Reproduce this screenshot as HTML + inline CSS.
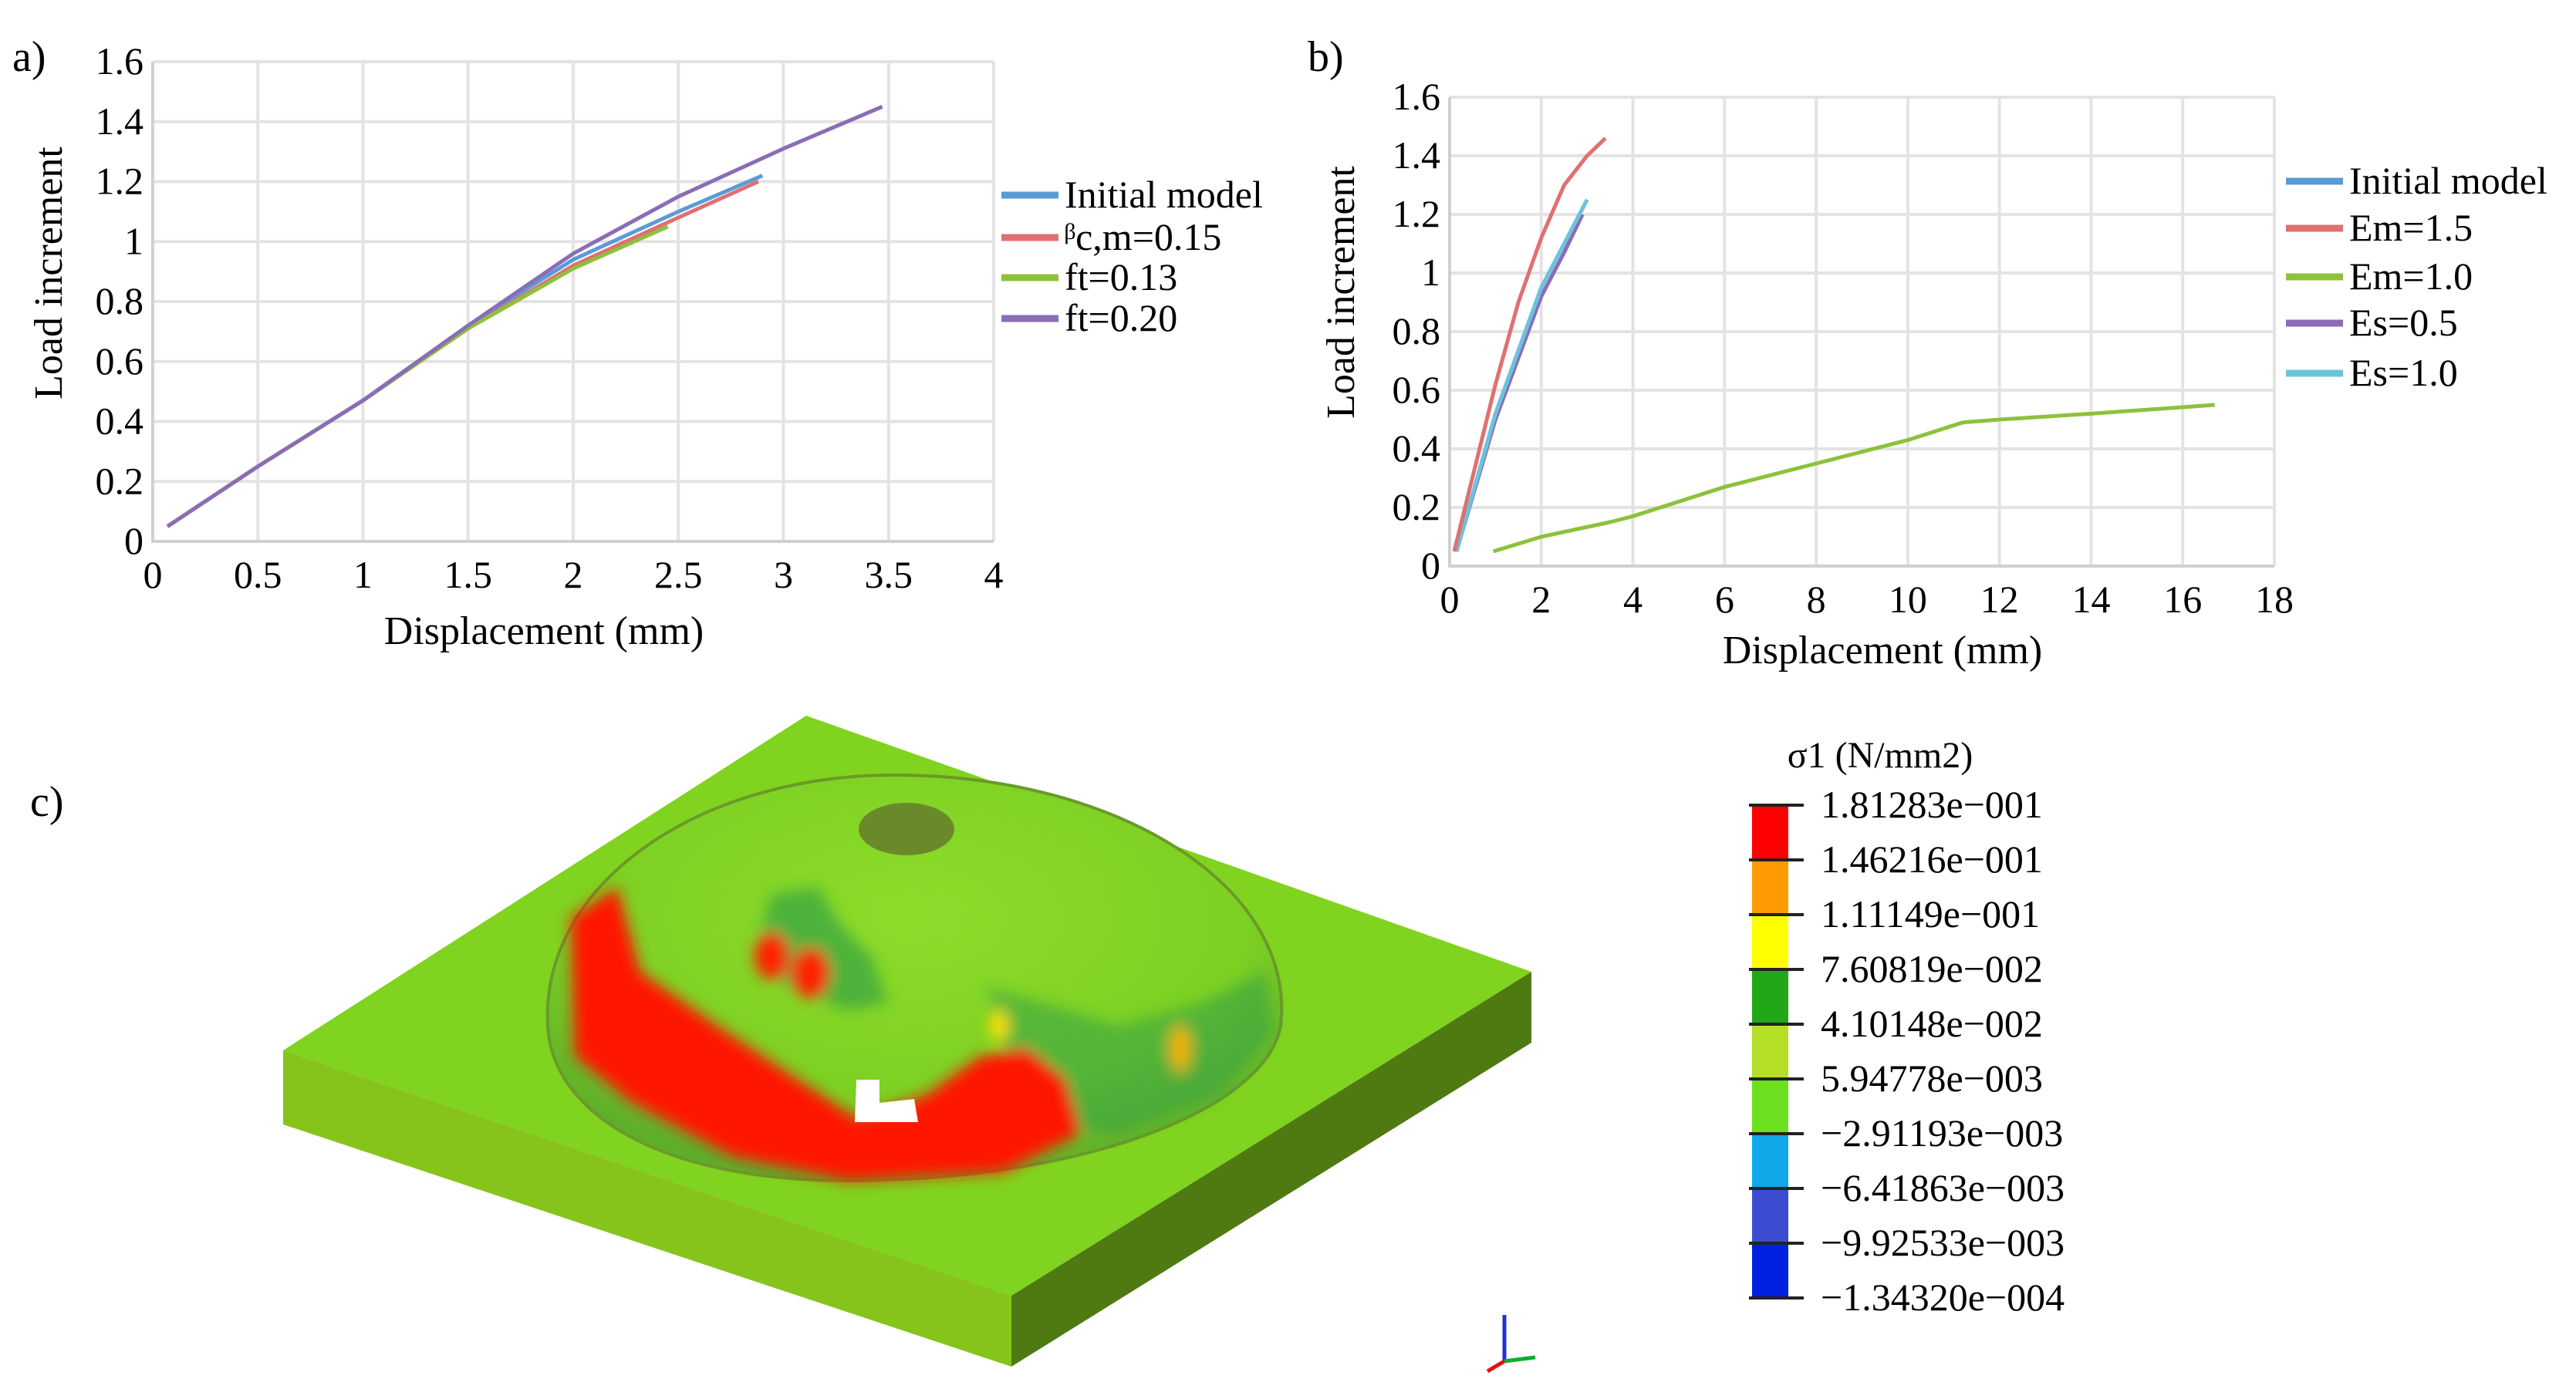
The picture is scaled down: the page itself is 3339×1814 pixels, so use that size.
<!DOCTYPE html>
<html><head><meta charset="utf-8">
<style>
html,body{margin:0;padding:0;background:#fff;}
svg, svg text{font-family:"Liberation Serif","DejaVu Serif",serif;}
</style></head>
<body>
<svg id="fig" width="3339" height="1809" viewBox="0 0 3339 1809" xmlns="http://www.w3.org/2000/svg" font-family="Liberation Serif, serif">
<defs>
<radialGradient id="domeG" cx="0.5" cy="0.35" r="0.65">
<stop offset="0" stop-color="#8edc2a"/><stop offset="0.7" stop-color="#7cd022"/><stop offset="1" stop-color="#5fae2a"/>
</radialGradient>
<filter id="blur" x="-20%" y="-20%" width="140%" height="140%"><feGaussianBlur stdDeviation="9"/></filter>
</defs>
<g id="chartA"></g>
<g id="chartB"></g>
<text x="16" y="92" font-size="56" font-family="Liberation Serif, serif">a)</text>
<text x="1695" y="92" font-size="56" font-family="Liberation Serif, serif">b)</text>
<text x="39" y="1058" font-size="56" font-family="Liberation Serif, serif">c)</text>

<g>
<polygon points="367,1362 1311,1680 1311,1772 367,1458" fill="#86c41c"/>
<polygon points="1311,1680 1985,1260 1985,1352 1311,1772" fill="#4f7a12"/>
<polygon points="1045,928 1985,1260 1311,1680 367,1362" fill="#80d31e"/>
<path d="M710,1330 C700,1150 900,1005 1160,1005 C1450,1005 1680,1150 1660,1330 C1640,1440 1400,1531 1100,1531 C850,1531 715,1440 710,1330 Z" fill="url(#domeG)" stroke="#6a9a2a" stroke-width="4"/>
<g filter="url(#blur)">
<path d="M1000,1160 L1060,1150 L1090,1200 L1130,1240 L1150,1300 L1100,1310 L1020,1280 L980,1230 Z" fill="#2a9a4a" opacity="0.6"/>
<path d="M1280,1280 L1350,1300 L1450,1330 L1560,1300 L1640,1260 L1650,1340 L1580,1420 L1450,1470 L1330,1460 Z" fill="#2a9a4a" opacity="0.5"/>
<path d="M740,1190 L800,1150 L830,1260 L930,1330 L1050,1410 L1110,1450 L1200,1420 L1270,1370 L1330,1360 L1380,1400 L1400,1470 L1300,1520 L1100,1531 L950,1500 L820,1430 L745,1370 Z" fill="#ff1200"/>
<ellipse cx="1000" cy="1240" rx="22" ry="30" fill="#ff2000"/>
<ellipse cx="1050" cy="1262" rx="24" ry="32" fill="#ff2000"/>
<ellipse cx="1295" cy="1330" rx="12" ry="20" fill="#ffdd00"/>
<ellipse cx="1530" cy="1360" rx="14" ry="30" fill="#f0b000"/>
</g>
<path d="M1110,1400 L1140,1400 L1140,1430 L1185,1425 L1190,1455 L1108,1455 Z" fill="#fff"/>
<ellipse cx="1175" cy="1075" rx="62" ry="34" fill="#6a8a2a"/>
</g>

<g>
<line x1="1950" y1="1765" x2="1950" y2="1705" stroke="#2233cc" stroke-width="5"/>
<line x1="1950" y1="1765" x2="1928" y2="1778" stroke="#dd1111" stroke-width="5"/>
<line x1="1950" y1="1765" x2="1990" y2="1760" stroke="#11aa33" stroke-width="5"/>
</g>

<g id="colorbar"></g>
<text x="2437" y="995" font-size="48" font-family="Liberation Serif, serif" text-anchor="middle">σ1 (N/mm2)</text>
</svg>
<script>
const NS="http://www.w3.org/2000/svg";
function mk(parent,tag,attrs,txt){const e=document.createElementNS(NS,tag);for(const k in attrs)e.setAttribute(k,attrs[k]);if(txt!==undefined){e.textContent=txt;e.setAttribute("font-family","Liberation Serif, serif");}parent.appendChild(e);return e;}

// ---- Chart A data ----
const aXTicks=[0,0.5,1,1.5,2,2.5,3,3.5,4];
const aYTicks=[0,0.2,0.4,0.6,0.8,1,1.2,1.4,1.6];
const aNames=["Initial model","ᵝc,m=0.15","ft=0.13","ft=0.20"];
const aColors=["#5b9bd5","#e07070","#8dc13c","#8a6db5"];
const aInitX=[0.07,0.5,1,1.5,2,2.5,2.9];
const aInitY=[0.05,0.25,0.47,0.72,0.94,1.10,1.22];
const aBetaX=[0.07,0.5,1,1.5,2,2.5,2.88];
const aBetaY=[0.05,0.25,0.47,0.71,0.92,1.08,1.20];
const aFt13X=[0.07,0.5,1,1.5,2,2.45];
const aFt13Y=[0.05,0.25,0.47,0.71,0.91,1.05];
const aFt20X=[0.07,0.5,1,1.5,2,2.5,3,3.47];
const aFt20Y=[0.05,0.25,0.47,0.72,0.96,1.15,1.31,1.45];

// ---- Chart B data ----
const bXTicks=[0,2,4,6,8,10,12,14,16,18];
const bYTicks=[0,0.2,0.4,0.6,0.8,1,1.2,1.4,1.6];
const bNames=["Initial model","Em=1.5","Em=1.0","Es=0.5","Es=1.0"];
const bColors=["#5b9bd5","#e07070","#8dc13c","#8a6db5","#6cc3dc"];
const bInitX=[0.15,1,2,2.5,3];
const bInitY=[0.05,0.52,0.95,1.10,1.25];
const bEm15X=[0.1,1,1.5,2,2.5,3,3.4];
const bEm15Y=[0.05,0.62,0.9,1.12,1.3,1.4,1.46];
const bEm10X=[0.95,2,3.5,4,6,8,10,11.2,12,14,16.7];
const bEm10Y=[0.05,0.1,0.15,0.17,0.27,0.35,0.43,0.49,0.5,0.52,0.55];
const bEs05X=[0.15,1,2,2.5,2.9];
const bEs05Y=[0.05,0.5,0.92,1.07,1.2];
const bEs10X=[0.15,1,2,2.5,3];
const bEs10Y=[0.05,0.52,0.95,1.10,1.25];

// ---- Colorbar data ----
const cbLabels=["1.81283e−001","1.46216e−001","1.11149e−001","7.60819e−002","4.10148e−002","5.94778e−003","−2.91193e−003","−6.41863e−003","−9.92533e−003","−1.34320e−004"];
const cbColors=["#ff0000","#ff9a00","#ffff00","#20a818","#b4e02a","#6ce01e","#10a8e8","#3c4cd0","#0020e0"];

function chart(g,o){
  const sx=v=>o.L+(v-o.x0)/(o.x1-o.x0)*(o.R-o.L);
  const sy=v=>o.B-(v-o.y0)/(o.y1-o.y0)*(o.B-o.T);
  o.xt.forEach(t=>{
    const l=mk(g,"line",{x1:sx(t),x2:sx(t),y1:o.T,y2:o.B,stroke:"#e3e3e3","stroke-width":4});
    
    
    const tx=mk(g,"text",{x:sx(t),y:o.B+60,"font-size":50,"text-anchor":"middle"},String(t));
    
    
  });
  o.yt.forEach(t=>{
    const l=mk(g,"line",{x1:o.L,x2:o.R,y1:sy(t),y2:sy(t),stroke:"#e3e3e3","stroke-width":4});
    
    
    const tx=mk(g,"text",{x:o.L-12,y:sy(t)+16,"font-size":50,"text-anchor":"end"},String(t));
    
    
  });
  const ax=mk(g,"path",{d:`M${o.L},${o.T} L${o.L},${o.B} L${o.R},${o.B}`,stroke:"#d0d0d0","stroke-width":4,fill:"none"});
  
  
  o.series.forEach((s,i)=>{
    const d=s.x.map((x,j)=>(j?"L":"M")+sx(x)+","+sy(s.y[j])).join(" ");
    const p=mk(g,"path",{d:d,stroke:s.c,"stroke-width":5,fill:"none","stroke-linejoin":"round"});
    
    
  });
  o.names.forEach((n,i)=>{
    const y=o.legY[i];
    const l=mk(g,"line",{x1:o.legX,x2:o.legX+74,y1:y,y2:y,stroke:o.colors[i],"stroke-width":9});
    
    
    const t=mk(g,"text",{x:o.legX+82,y:y+16,"font-size":50},n);
    
    
  });
  const xt=mk(g,"text",{x:o.xtX,y:o.xtY,"font-size":52,"text-anchor":"middle"},"Displacement (mm)");
  
  
  const yt=mk(g,"text",{x:0,y:0,"font-size":52,"text-anchor":"middle",transform:`translate(${o.ytX},${o.ytY}) rotate(-90)`},"Load increment");
  
  
}

chart(document.getElementById("chartA"),{L:198,R:1288,T:80,B:702,x0:0,x1:4,y0:0,y1:1.6,xt:aXTicks,yt:aYTicks,
  names:aNames,colors:aColors,legX:1298,legY:[253,308,360,413],xtX:705,xtY:835,ytX:80,ytY:354,
  series:[{x:aInitX,y:aInitY,c:aColors[0],n:aNames[0]},{x:aBetaX,y:aBetaY,c:aColors[1],n:"beta"},{x:aFt13X,y:aFt13Y,c:aColors[2],n:aNames[2]},{x:aFt20X,y:aFt20Y,c:aColors[3],n:aNames[3]}]});
chart(document.getElementById("chartB"),{L:1879,R:2948,T:126,B:734,x0:0,x1:18,y0:0,y1:1.6,xt:bXTicks,yt:bYTicks,
  names:bNames,colors:bColors,legX:2963,legY:[235,296,359,419,484],xtX:2440,xtY:860,ytX:1755,ytY:379,
  series:[{x:bEm10X,y:bEm10Y,c:bColors[2],n:bNames[2]},{x:bEs05X,y:bEs05Y,c:bColors[3],n:bNames[3]},{x:bInitX,y:bInitY,c:bColors[0],n:bNames[0]},{x:bEs10X,y:bEs10Y,c:bColors[4],n:bNames[4]},{x:bEm15X,y:bEm15Y,c:bColors[1],n:bNames[1]}]});

// colorbar
(function(){
  const g=document.getElementById("colorbar");
  const top=1044,bot=1683,x=2271,w=47;
  const h=(bot-top)/cbColors.length;
  cbColors.forEach((c,i)=>{
    const r=mk(g,"rect",{x:x,y:top+i*h,width:w,height:h,fill:c});
    
    
  });
  cbLabels.forEach((t,i)=>{
    const y=top+i*h;
    const l=mk(g,"line",{x1:x-4,x2:x+w+20,y1:y,y2:y,stroke:"#222","stroke-width":4});
    
    
    const tx=mk(g,"text",{x:2360,y:y+16,"font-size":50},t);
    
    
  });
})();
</script>
</body></html>
